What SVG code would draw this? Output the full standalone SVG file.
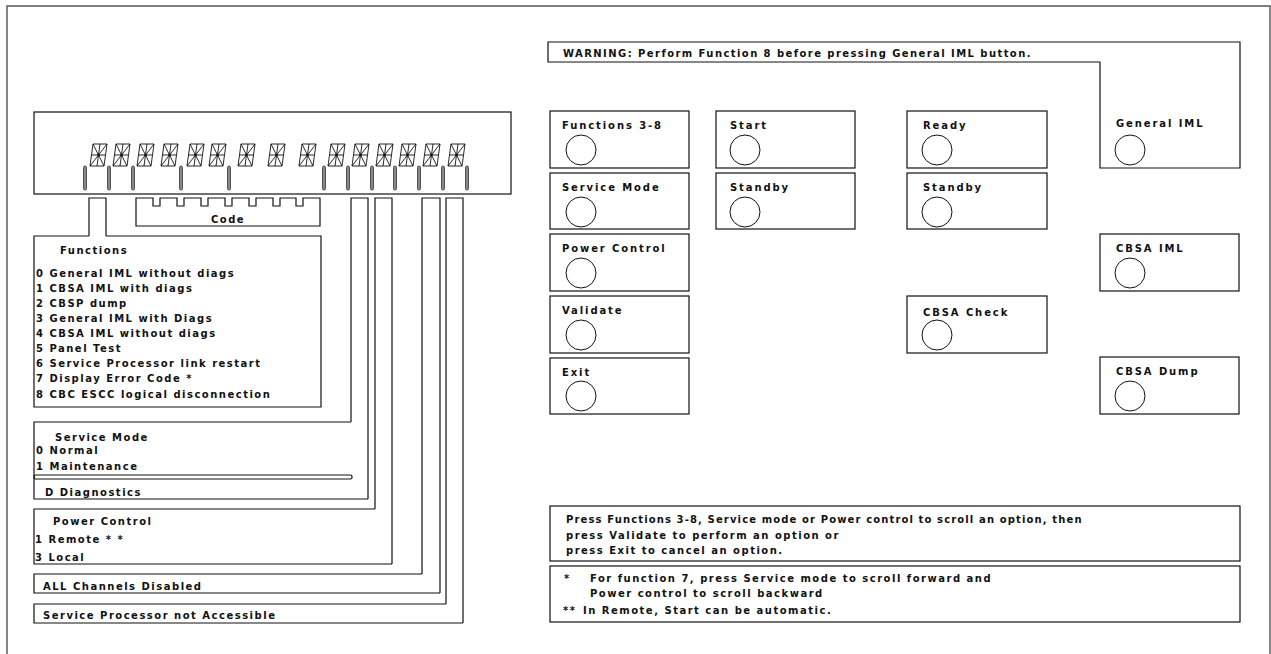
<svg xmlns="http://www.w3.org/2000/svg" width="1271" height="654" viewBox="0 0 1271 654">
<style>
  .ln{fill:none;stroke:#111;stroke-width:1.2}
  .frame{fill:none;stroke:#555;stroke-width:1.4}
  .t{font-family:"DejaVu Sans","Liberation Sans",sans-serif;font-weight:bold;font-size:10px;letter-spacing:1.5px;fill:#111}
  .b{letter-spacing:1.9px}
  .btn{fill:#fff;stroke:#111;stroke-width:1.2}
  .knob{fill:#fff;stroke:#111;stroke-width:1}
  .bar{fill:#888;stroke:#333;stroke-width:0.8}
  .seg{fill:none;stroke:#111;stroke-width:0.9}
</style>
<defs>
  <g id="glyph">
    <path class="seg" d="M3,0 H17 L14,22 H0 Z M3,0 L14,22 M17,0 L0,22 M10,0 L7,22 M1.5,11 H15.5"/>
    <circle cx="8.5" cy="11" r="1.3" fill="#111"/>
  </g>
  <rect id="led" x="-1.5" y="0" width="3" height="24" rx="1.5" class="bar"/>
</defs>
<rect width="1271" height="654" fill="#fff"/>
<path class="frame" d="M7,654 V6 H1270 V654"/>

<g id="display">
  <rect class="ln" x="34" y="112" width="477" height="82"/>
  <use href="#glyph" x="90" y="144"/>
  <use href="#glyph" x="113" y="144"/>
  <use href="#glyph" x="137" y="144"/>
  <use href="#glyph" x="161" y="144"/>
  <use href="#glyph" x="187" y="144"/>
  <use href="#glyph" x="209" y="144"/>
  <use href="#glyph" x="238" y="144"/>
  <use href="#glyph" x="268" y="144"/>
  <use href="#glyph" x="299" y="144"/>
  <use href="#glyph" x="328" y="144"/>
  <use href="#glyph" x="352" y="144"/>
  <use href="#glyph" x="376" y="144"/>
  <use href="#glyph" x="399" y="144"/>
  <use href="#glyph" x="423" y="144"/>
  <use href="#glyph" x="448" y="144"/>
  <use href="#led" x="85" y="166"/>
  <use href="#led" x="109" y="166"/>
  <use href="#led" x="133" y="166"/>
  <use href="#led" x="181" y="166"/>
  <use href="#led" x="229" y="166"/>
  <use href="#led" x="324" y="166"/>
  <use href="#led" x="348" y="166"/>
  <use href="#led" x="372" y="166"/>
  <use href="#led" x="395" y="166"/>
  <use href="#led" x="419" y="166"/>
  <use href="#led" x="443" y="166"/>
  <use href="#led" x="467" y="166"/>
</g>

<g id="code">
  <path class="ln" d="M136,198 H153 V206 H160 V198 H177 V206 H184 V198 H201 V206 H208 V198 H225 V206 H232 V198 H249 V206 H256 V198 H273 V206 H280 V198 H296 V206 H303 V198 H320 V226 H136 Z"/>
  <text class="t" x="211" y="223">Code</text>
</g>

<g id="connectors">
  <path class="ln" d="M89,236 V198 H106 V236"/>
  <path class="ln" d="M351,422 V198 H368 V499"/>
  <path class="ln" d="M375,509 V198 H392 V564"/>
  <path class="ln" d="M422,574 V198 H440 V593"/>
  <path class="ln" d="M446,604 V198 H463 V623"/>
</g>

<g id="functions">
  <path class="ln" d="M89,236 H34 V407 H321 V236 H106"/>
  <text class="t" x="60" y="254">Functions</text>
  <text class="t" x="36" y="277">0 General IML without diags</text>
  <text class="t" x="36" y="292">1 CBSA IML with diags</text>
  <text class="t" x="36" y="307">2 CBSP dump</text>
  <text class="t" x="36" y="322">3 General IML with Diags</text>
  <text class="t" x="36" y="337">4 CBSA IML without diags</text>
  <text class="t" x="36" y="352">5 Panel Test</text>
  <text class="t" x="36" y="367">6 Service Processor link restart</text>
  <text class="t" x="36" y="382">7 Display Error Code *</text>
  <text class="t" x="36" y="398">8 CBC ESCC logical disconnection</text>
</g>

<g id="service-mode">
  <path class="ln" d="M351,422 H34 V499 H368"/>
  <rect class="ln" x="34" y="475" width="318" height="4" rx="1.5"/>
  <text class="t" x="55" y="441">Service Mode</text>
  <text class="t" x="36" y="454">0 Normal</text>
  <text class="t" x="36" y="470">1 Maintenance</text>
  <text class="t" x="45" y="496">D Diagnostics</text>
</g>

<g id="power-control">
  <path class="ln" d="M375,509 H34 V564 H392"/>
  <text class="t" x="53" y="525">Power Control</text>
  <text class="t" x="35" y="543">1 Remote * *</text>
  <text class="t" x="35" y="561">3 Local</text>
</g>

<g id="all-channels">
  <path class="ln" d="M422,574 H34 V593 H440"/>
  <text class="t" x="43" y="590">ALL Channels Disabled</text>
</g>

<g id="sp-not-accessible">
  <path class="ln" d="M446,604 H34 V623 H463"/>
  <text class="t" x="43" y="619">Service Processor not Accessible</text>
</g>

<g id="warning-general-iml">
  <path class="ln" d="M548,42 H1240 V168 H1100 V62 H548 Z"/>
  <text class="t" x="563" y="57" textLength="469">WARNING: Perform Function 8 before pressing General IML button.</text>
  <text class="t b" x="1116" y="127">General IML</text>
  <circle class="knob" cx="1130" cy="150" r="15"/>
</g>

<g id="btn-functions">
  <rect class="btn" x="550" y="111" width="139" height="57"/>
  <text class="t b" x="562" y="129">Functions 3-8</text>
  <circle class="knob" cx="581" cy="150" r="15"/>
</g>
<g id="btn-service-mode">
  <rect class="btn" x="550" y="173" width="139" height="56"/>
  <text class="t b" x="562" y="191">Service Mode</text>
  <circle class="knob" cx="581" cy="212" r="15"/>
</g>
<g id="btn-power-control">
  <rect class="btn" x="550" y="234" width="139" height="57"/>
  <text class="t b" x="562" y="252">Power Control</text>
  <circle class="knob" cx="581" cy="273" r="15"/>
</g>
<g id="btn-validate">
  <rect class="btn" x="550" y="296" width="139" height="57"/>
  <text class="t b" x="562" y="314">Validate</text>
  <circle class="knob" cx="581" cy="335" r="15"/>
</g>
<g id="btn-exit">
  <rect class="btn" x="550" y="358" width="139" height="56"/>
  <text class="t b" x="562" y="376">Exit</text>
  <circle class="knob" cx="581" cy="396" r="15"/>
</g>
<g id="btn-start">
  <rect class="btn" x="716" y="111" width="139" height="57"/>
  <text class="t b" x="730" y="129">Start</text>
  <circle class="knob" cx="745" cy="150" r="15"/>
</g>
<g id="btn-standby-1">
  <rect class="btn" x="716" y="173" width="139" height="56"/>
  <text class="t b" x="730" y="191">Standby</text>
  <circle class="knob" cx="745" cy="212" r="15"/>
</g>
<g id="btn-ready">
  <rect class="btn" x="907" y="111" width="140" height="57"/>
  <text class="t b" x="923" y="129">Ready</text>
  <circle class="knob" cx="937" cy="150" r="15"/>
</g>
<g id="btn-standby-2">
  <rect class="btn" x="907" y="173" width="140" height="56"/>
  <text class="t b" x="923" y="191">Standby</text>
  <circle class="knob" cx="937" cy="212" r="15"/>
</g>
<g id="btn-cbsa-check">
  <rect class="btn" x="907" y="296" width="140" height="57"/>
  <text class="t b" x="923" y="316">CBSA Check</text>
  <circle class="knob" cx="937" cy="335" r="15"/>
</g>
<g id="btn-cbsa-iml">
  <rect class="btn" x="1100" y="234" width="139" height="57"/>
  <text class="t b" x="1116" y="252">CBSA IML</text>
  <circle class="knob" cx="1130" cy="273" r="15"/>
</g>
<g id="btn-cbsa-dump">
  <rect class="btn" x="1100" y="357" width="139" height="57"/>
  <text class="t b" x="1116" y="375">CBSA Dump</text>
  <circle class="knob" cx="1130" cy="396" r="15"/>
</g>

<g id="note-press">
  <rect class="btn" x="550" y="506" width="690" height="55"/>
  <text class="t" x="566" y="523" textLength="517">Press Functions 3-8, Service mode or Power control to scroll an option, then</text>
  <text class="t" x="566" y="539">press Validate to perform an option or</text>
  <text class="t" x="566" y="554">press Exit to cancel an option.</text>
</g>
<g id="note-footnotes">
  <rect class="btn" x="550" y="566" width="690" height="56"/>
  <text class="t" x="564" y="582">*</text>
  <text class="t" x="590" y="582">For function 7, press Service mode to scroll forward and</text>
  <text class="t" x="590" y="597">Power control to scroll backward</text>
  <text class="t" x="563" y="614" letter-spacing="1">**</text>
  <text class="t" x="583" y="614">In Remote, Start can be automatic.</text>
</g>
</svg>
